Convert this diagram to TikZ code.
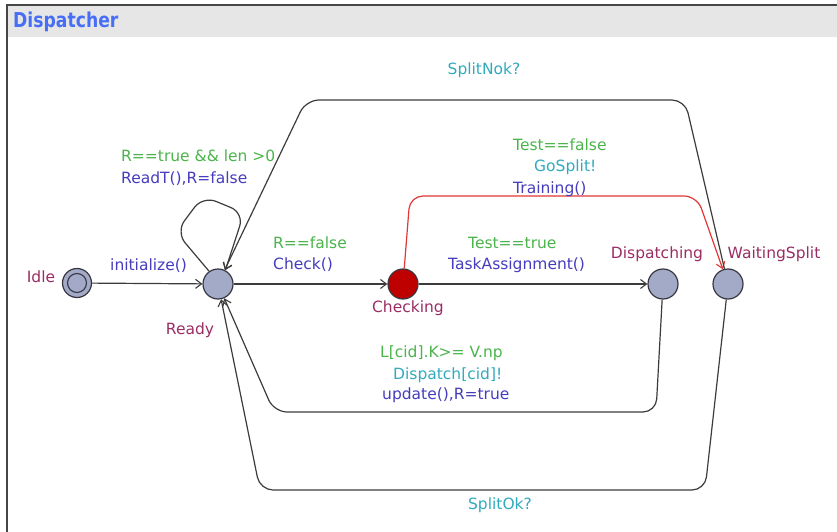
\documentclass[tikz,border=0pt]{standalone}
\usepackage{fontspec}
\usepackage{graphicx}
\setmainfont{DejaVu Sans}
\usetikzlibrary{arrows.meta}

\definecolor{framecol}{RGB}{70,70,70}
\definecolor{barfill}{RGB}{230,230,230}
\definecolor{titlecol}{RGB}{72,110,245}
\definecolor{locfill}{RGB}{163,170,200}
\definecolor{locline}{RGB}{55,55,65}
\definecolor{namecol}{RGB}{155,45,100}
\definecolor{guardcol}{RGB}{75,180,75}
\definecolor{synccol}{RGB}{50,170,190}
\definecolor{updcol}{RGB}{70,60,190}
\definecolor{edgecol}{RGB}{60,60,60}
\definecolor{rededge}{RGB}{225,55,55}
\definecolor{commitfill}{RGB}{190,0,0}

\begin{document}
\begin{tikzpicture}[x=1pt,y=-1pt,
  font=\fontsize{15.5}{18}\selectfont,
  loc/.style={circle,draw=locline,fill=locfill,line width=1.2pt,minimum size=30pt,inner sep=0pt},
  namelbl/.style={text=namecol,inner sep=0pt},
  guardlbl/.style={text=guardcol,inner sep=0pt,anchor=west},
  synclbl/.style={text=synccol,inner sep=0pt,anchor=west},
  updlbl/.style={text=updcol,inner sep=0pt,anchor=west},
  edge/.style={draw=edgecol,line width=1.2pt,-{Straight Barb[length=6pt,width=9pt,line width=1.1pt]}},
  rededgest/.style={edge,draw=rededge}]

\useasboundingbox (0,0) rectangle (837,532);
\fill[white] (0,0) rectangle (837,532);

% template frame and title bar
\fill[barfill] (8,6) rectangle (837,37);
\draw[framecol,line width=2pt] (7,5) -- (837,5);
\draw[framecol,line width=1.5pt] (7,4) -- (7,532);
\node[text=titlecol,anchor=west,inner sep=0pt,font=\fontsize{20.5}{24}\selectfont\bfseries] (title) at (13,22) {\scalebox{0.84}[1]{Dispatcher}};

% locations
\node[loc,minimum size=29pt] (idle) at (77,283) {};
\draw[locline,line width=1.1pt] (idle.center) circle (9.5pt);
\node[loc] (ready) at (218,284) {};
\node[loc,fill=commitfill] (checking) at (403,284) {};
\node[loc] (disp) at (663,284) {};
\node[loc] (wait) at (728,284) {};

% location names
\node[namelbl] (idlename) at (41,277) {Idle};
\node[namelbl] (readyname) at (190,330) {Ready};
\node[namelbl] (checkname) at (408,308) {Checking};
\node[namelbl] (dispname) at (657,254) {Dispatching};
\node[namelbl] (waitname) at (774,254) {WaitingSplit};

% transitions
\draw[edge] (idle) -- (ready);
\draw[edge,rounded corners=14pt] (ready.125) -- (176,232) -- (203,196) -- (244,213) -- (ready.62);
\draw[edge] (ready) -- (checking);
\draw[edge] (checking) -- (disp);
\draw[rededgest,rounded corners=13pt] (checking) -- (410,196) -- (697,196) -- (wait);
\draw[edge,rounded corners=13pt] (wait) -- (685,100) -- (306,100) -- (ready);
\draw[edge,rounded corners=13pt] (disp) -- (656,412) -- (274,412) -- (ready);
\draw[edge,rounded corners=13pt] (wait) -- (705,490) -- (260,490) -- (ready);

% transition labels
\node[updlbl] (initlbl) at (110,266) {initialize()};
\node[guardlbl] (loopguard) at (121,156) {R==true \&\& len >0};
\node[updlbl] (loopupd) at (121,179) {ReadT(),R=false};
\node[guardlbl] (chkguard) at (273,243) {R==false};
\node[updlbl] (chkupd) at (273,265) {Check()};
\node[guardlbl] (tguard) at (468,243) {Test==true};
\node[updlbl] (tupd) at (448,265) {TaskAssignment()};
\node[guardlbl] (fguard) at (513,145) {Test==false};
\node[synclbl] (fsync) at (534,167) {GoSplit!};
\node[updlbl] (fupd) at (513,189) {Training()};
\node[synclbl,anchor=center] (nok) at (484,70) {SplitNok?};
\node[guardlbl] (dguard) at (380,353) {L[cid].K>= V.np};
\node[synclbl] (dsync) at (393,375) {Dispatch[cid]!};
\node[updlbl] (dupd) at (382,395) {update(),R=true};
\node[synclbl,anchor=center] (ok) at (500,505) {SplitOk?};
\end{tikzpicture}
\end{document}
